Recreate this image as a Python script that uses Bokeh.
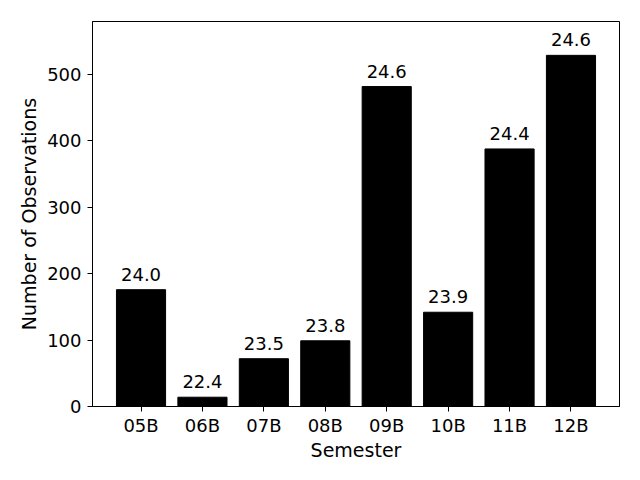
from bokeh.plotting import figure
from bokeh.models import ColumnDataSource, FactorRange, Range1d
from bokeh.core.properties import value
from bokeh.embed import file_html
from bokeh.resources import INLINE

semesters = ["05B", "06B", "07B", "08B", "09B", "10B", "11B", "12B"]
counts = [176, 14, 72, 99, 482, 142, 388, 529]
mean_values = [24.0, 22.4, 23.5, 23.8, 24.6, 23.9, 24.4, 24.6]

FONT = "DejaVu Sans"
FS = "18px"
LFS = "19px"

source = ColumnDataSource(dict(
    sem=semesters,
    count=counts,
    label=[f"{v:.1f}" for v in mean_values],
))

p = figure(
    x_range=FactorRange(factors=semesters, range_padding=0.0725, range_padding_units="percent"),
    y_range=Range1d(0, 580),
    width=640, height=480,
    min_border_left=92, min_border_right=21, min_border_top=21, min_border_bottom=74,
    output_backend="svg", toolbar_location=None,
)

p.vbar(x="sem", top="count", width=0.8, source=source,
       fill_color="black", line_color="black")
p.text(x="sem", y="count", text="label", source=source,
       text_align="center", text_baseline="bottom", y_offset=-9,
       text_font=value(FONT), text_font_size=FS, text_color="black")

p.xgrid.grid_line_color = None
p.ygrid.grid_line_color = None
p.outline_line_color = "black"
p.outline_line_width = 1
p.background_fill_color = "white"
p.border_fill_color = "white"

for ax in (p.xaxis[0], p.yaxis[0]):
    ax.axis_line_color = "black"
    ax.major_tick_line_color = "black"
    ax.major_tick_out = 5
    ax.major_tick_in = 0
    ax.minor_tick_line_color = None
    ax.major_label_text_font = FONT
    ax.major_label_text_font_size = FS
    ax.major_label_text_color = "black"
    ax.axis_label_text_font = FONT
    ax.axis_label_text_font_size = LFS
    ax.axis_label_text_font_style = "normal"
    ax.axis_label_text_color = "black"

p.yaxis[0].major_label_standoff = 6
p.xaxis[0].major_label_standoff = 3
p.yaxis[0].ticker = [0, 100, 200, 300, 400, 500]
p.xaxis.axis_label = "Semester"
p.yaxis.axis_label = "Number of Observations"
p.xaxis[0].axis_label_standoff = 0
p.yaxis[0].axis_label_standoff = 4

open("out.html", "w").write(file_html(p, INLINE))
